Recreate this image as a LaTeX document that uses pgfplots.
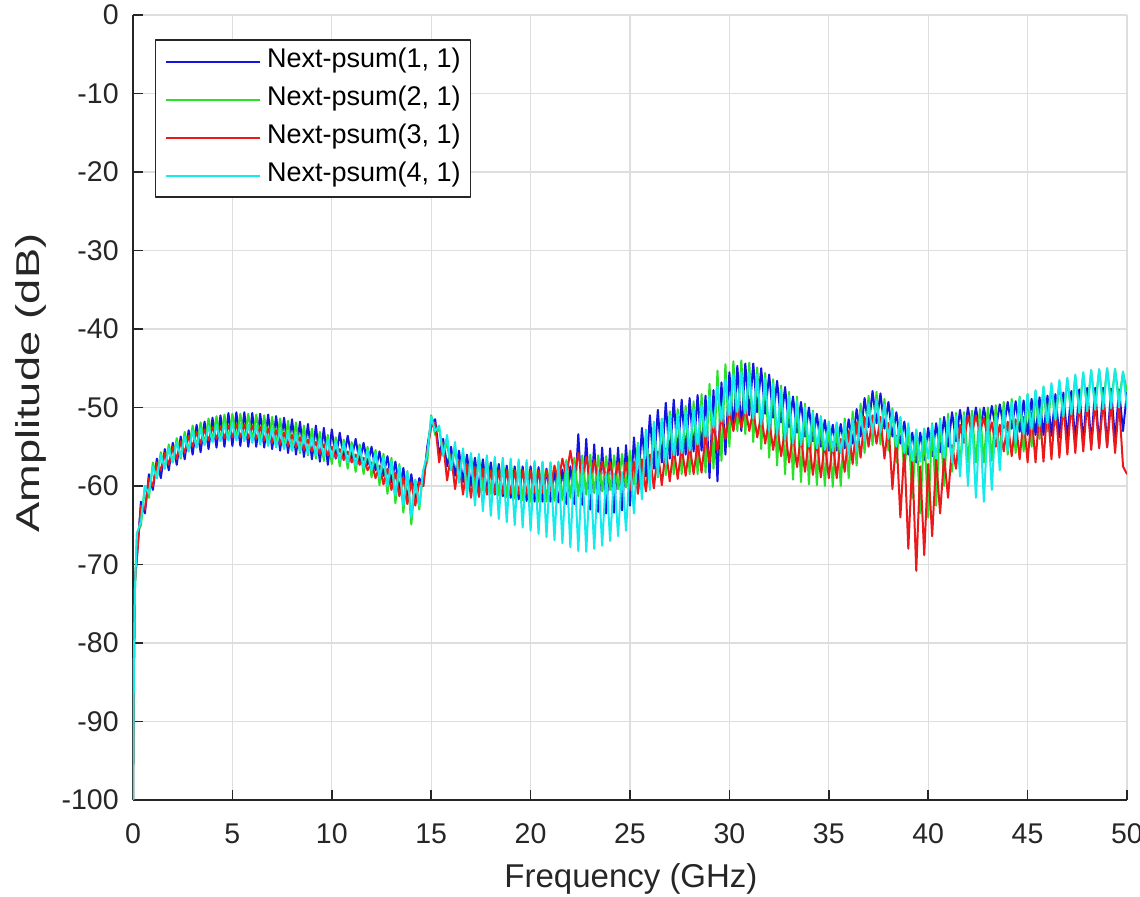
\documentclass[border=0pt]{standalone}
\usepackage{fontspec}
\setmainfont{Liberation Sans}
\usepackage{graphicx}
\usepackage{pgfplots}
\usepackage{pgfplotstable}
\pgfplotsset{compat=1.18}

\definecolor{axiscol}{RGB}{38,38,38}
\definecolor{gridcol}{RGB}{222,222,222}
\definecolor{mblue}{RGB}{20,20,225}
\definecolor{mgreen}{RGB}{40,225,40}
\definecolor{mred}{RGB}{235,25,25}
\definecolor{mcyan}{RGB}{20,235,235}

% x  blue  green  red  cyan  (ripple: alternating upper/lower envelope)
\pgfplotstableread{
x b g r c
0 -100 -100 -100 -100
0.05 -82 -82 -82 -82
0.1 -72 -73 -72 -73
0.2 -69 -66 -69 -66
0.4 -62 -65 -62.5 -64.5
0.6 -63.5 -60 -63 -60
0.8 -58.5 -61.5 -59 -61
1.0 -60.5 -57 -60 -57.5
1.2 -56.5 -59 -57 -59
1.4 -59 -55.7 -58 -56
1.6 -55.3 -57.8 -55.8 -57.8
1.8 -58 -54.7 -57.3 -55.2
2.0 -54.5 -57 -55 -57
2.2 -57.3 -53.9 -56.6 -54.4
2.4 -53.7 -56.5 -54.3 -56.3
2.6 -56.6 -53.1 -55.8 -53.7
2.8 -52.9 -55.6 -53.6 -55.6
3.0 -56 -52.3 -55 -53
3.2 -52.2 -55.1 -53.1 -55.1
3.4 -55.7 -51.9 -54.6 -52.7
3.6 -51.8 -54.7 -52.8 -54.8
3.8 -55.3 -51.4 -54.2 -52.4
4.0 -51.3 -54.3 -52.5 -54.4
4.2 -55.1 -51.1 -54 -52.2
4.4 -51 -54.2 -52.4 -54.3
4.6 -55 -50.9 -53.9 -52.1
4.8 -50.7 -54.1 -52.3 -54.2
5.0 -54.9 -50.8 -53.8 -52
5.2 -50.6 -54 -52.2 -54.2
5.4 -54.9 -50.8 -53.8 -52.1
5.6 -50.6 -54.1 -52.2 -54.3
5.8 -55 -50.8 -53.9 -52.2
6.0 -50.7 -54.2 -52.3 -54.5
6.2 -55 -50.9 -54 -52.3
6.4 -50.8 -54.4 -52.5 -54.7
6.6 -55.1 -51 -54.2 -52.4
6.8 -50.9 -54.7 -52.7 -54.9
7.0 -55.3 -51.2 -54.5 -52.6
7.2 -51.1 -54.9 -52.9 -55.1
7.4 -55.5 -51.4 -54.7 -52.8
7.6 -51.3 -55.2 -53.2 -55.3
7.8 -55.8 -51.7 -54.9 -53.1
8.0 -51.5 -55.5 -53.5 -55.5
8.2 -56 -51.9 -55.1 -53.3
8.4 -51.8 -55.8 -53.8 -55.6
8.6 -56.3 -52.3 -55.4 -53.6
8.8 -52.1 -56.1 -54.1 -55.9
9.0 -56.6 -52.7 -55.6 -53.8
9.2 -52.3 -56.5 -54.4 -56.1
9.4 -56.9 -53.1 -55.9 -54
9.6 -52.6 -56.8 -54.7 -56.2
9.8 -57.3 -53.5 -56.1 -54.1
10.0 -52.8 -57.2 -55 -56.4
10.2 -56.5 -53.8 -56.4 -54.3
10.4 -53.2 -57.5 -55.3 -56.7
10.6 -56.5 -54.1 -56.7 -54.5
10.8 -53.6 -57.8 -55.6 -57
11.0 -56.5 -54.4 -57 -54.8
11.2 -54 -58.2 -56 -57.4
11.4 -57 -54.7 -57.3 -55.1
11.6 -54.5 -58.5 -56.4 -57.7
11.8 -57.3 -55 -58 -55.4
12.0 -55 -58.9 -57 -58
12.2 -58 -55.4 -59 -55.8
12.4 -55.6 -59.9 -57.4 -59
12.6 -58.7 -55.9 -59.8 -56.3
12.8 -56.2 -61 -57.8 -60
13.0 -59.5 -56.4 -60.5 -56.8
13.2 -56.9 -62.2 -58.3 -61.2
13.4 -60.5 -57.2 -61.3 -57.5
13.6 -57.7 -63.4 -58.9 -62.5
13.8 -61.7 -58.1 -62.3 -58.2
14.0 -58.5 -64.9 -59.5 -64
14.2 -62 -59.2 -62.5 -59.2
14.4 -59 -63 -59.5 -62.5
14.6 -60 -58 -60 -58
14.8 -55 -57 -55.5 -56
15.0 -52 -51 -52.5 -51.2
15.2 -51.5 -53.5 -52 -53
15.4 -56 -52.6 -57 -52.3
15.6 -54 -56 -54.5 -56.2
15.8 -57.5 -54.5 -59.3 -53.5
16.0 -55 -58 -56 -58
16.2 -58.7 -55.3 -60.4 -54.4
16.4 -55.5 -59 -56.8 -59.6
16.6 -59.5 -55.7 -61.1 -55.2
16.8 -56 -59.8 -57.3 -61.4
17.0 -60 -56 -61.5 -55.8
17.2 -56.4 -60.4 -57.6 -62.5
17.4 -60.4 -56.2 -61.4 -55.9
17.6 -56.6 -60.6 -57.8 -63.2
17.8 -60.8 -56.4 -61.1 -56.1
18.0 -57 -61 -58 -63.8
18.2 -61.1 -56.6 -61 -56.3
18.4 -57.2 -61.2 -58 -64.2
18.6 -61.3 -56.7 -61 -56.4
18.8 -57.4 -61.4 -58 -64.6
19.0 -61.5 -56.8 -61 -56.5
19.2 -57.5 -61.6 -58 -65
19.4 -61.7 -56.9 -61 -56.6
19.6 -57.5 -61.8 -58 -65.3
19.8 -61.9 -57 -61 -56.7
20.0 -57.5 -62 -58 -65.7
20.2 -62 -57 -60.9 -56.8
20.4 -57.6 -62 -58 -66.1
20.6 -62 -57 -60.8 -56.9
20.8 -57.8 -62 -58 -66.5
21.0 -62 -57 -60.5 -57
21.2 -58 -61.9 -57.4 -66.9
21.4 -62.1 -56.9 -59.5 -57
21.6 -57.9 -61.8 -56.5 -67.3
21.8 -62.3 -56.7 -58.8 -57.1
22.0 -57.5 -61.5 -55.5 -67.8
22.2 -62.3 -56.4 -58.6 -57.2
22.4 -53.4 -61.3 -55.8 -68.3
22.6 -62.4 -56.1 -59 -57.3
22.8 -54 -61.1 -56.3 -68.4
23.0 -63 -56 -59 -57.8
23.2 -54.7 -60.9 -56.7 -68
23.4 -63.3 -56.1 -59 -58.1
23.6 -55.1 -60.7 -56.9 -67.6
23.8 -63.5 -56.2 -59 -58.4
24.0 -55.2 -60.5 -57 -67
24.2 -63.4 -56.1 -59.5 -58.4
24.4 -55.1 -60.4 -57 -66.4
24.6 -63.1 -55.9 -60.1 -58.2
24.8 -54.8 -60.2 -57 -65.7
25.0 -62.5 -55.5 -60.5 -57
25.2 -53.8 -59.8 -56.9 -63.5
25.4 -60.5 -54.5 -61 -54.6
25.6 -52.6 -59.4 -56.6 -61.7
25.8 -58.8 -53.5 -60.7 -52.8
26.0 -51 -59 -56 -60.5
26.2 -57.8 -52.5 -60.3 -51.8
26.4 -50.3 -58.9 -55.6 -58.7
26.6 -57 -51.5 -59.9 -51.4
26.8 -49.4 -58.6 -55.2 -57.2
27.0 -56.5 -50.5 -59.4 -51
27.2 -49 -58.5 -55 -56.1
27.4 -56.1 -50.2 -59.1 -50.8
27.6 -49 -58.5 -54.9 -55.8
27.8 -56 -49.8 -58.7 -50.5
28.0 -48.8 -58.5 -54.7 -55.5
28.2 -55.6 -49.2 -58.5 -50.2
28.4 -48.4 -58.5 -54.5 -54.7
28.6 -55.5 -48.3 -58.3 -49.7
28.8 -48.5 -58.3 -53.5 -53.7
29.0 -59 -47 -57 -48.5
29.2 -47.8 -57.8 -52 -52.6
29.4 -59.4 -45.3 -55.5 -47.3
29.6 -46.8 -56.8 -51 -51.8
29.8 -56 -44.5 -54 -46.4
30.0 -45.5 -55 -50.3 -51
30.2 -52.8 -44.1 -53 -45.8
30.4 -44.7 -53 -49.8 -50.6
30.6 -53 -44 -52.6 -45.5
30.8 -44.4 -53.4 -49.9 -50.8
31.0 -51 -44.3 -53 -45.5
31.2 -44.4 -54.4 -50.3 -51.4
31.4 -50.6 -44.9 -53.8 -45.8
31.6 -45 -55.3 -50.9 -52.2
31.8 -50.8 -45.6 -54.6 -46.3
32.0 -45.8 -56.4 -51.5 -53
32.2 -51.3 -46.4 -55.4 -46.9
32.4 -46.6 -57.4 -52.1 -53.5
32.6 -51.9 -47.2 -56.2 -47.7
32.8 -47.4 -58.5 -52.7 -54.1
33.0 -52.5 -48 -57 -48.5
33.2 -48.6 -59.2 -53.4 -54.6
33.4 -53.2 -48.6 -57.6 -49.2
33.6 -49.3 -59.5 -53.6 -54.8
33.8 -53.7 -49.5 -58.2 -50
34.0 -50 -59.8 -54 -55
34.2 -54.3 -50.4 -58.6 -50.6
34.4 -50.8 -59.9 -54.2 -55.2
34.6 -55 -51.1 -58.9 -51.2
34.8 -51.6 -60 -54.4 -55.4
35.0 -55.5 -51.8 -59 -51.8
35.2 -52.2 -60.1 -54.4 -55.6
35.4 -55.5 -52 -59 -51.9
35.6 -52.1 -60 -54 -55.8
35.8 -55.2 -51.4 -58.2 -52
36.0 -51.5 -59 -53 -56
36.2 -54.6 -50.5 -57.2 -51.6
36.4 -50.2 -57.4 -51.9 -55.6
36.6 -53.7 -49.5 -56.4 -50.7
36.8 -48.8 -55.8 -51.2 -54.3
37.0 -52.5 -48.5 -55 -49.5
37.2 -47.9 -54.8 -51 -53.3
37.4 -52 -48 -54.6 -49
37.6 -48.2 -54.7 -51.2 -53.2
37.8 -52.7 -48.9 -56.5 -49.6
38.0 -49.3 -55.5 -52 -54
38.2 -53.7 -50.1 -60.4 -50.4
38.4 -50.6 -57 -53.6 -55
38.6 -54.6 -51.3 -64 -51.2
38.8 -51.8 -58.2 -55.2 -55.8
39.0 -56 -52.5 -68 -52
39.2 -53.2 -61.5 -56.7 -56.8
39.4 -57 -52.9 -70.8 -52.8
39.6 -53.2 -63.5 -57.5 -56.9
39.8 -56.7 -52.7 -68.8 -52.7
40.0 -52.6 -64 -57.2 -56.5
40.2 -56.2 -52 -66.4 -52.2
40.4 -52 -62.5 -56.6 -56.5
40.6 -55.7 -51.4 -63.5 -51.7
40.8 -51.2 -60 -56.2 -56.4
41.0 -55 -50.8 -61.5 -51.5
41.2 -50.6 -58.2 -54.8 -57
41.4 -54.3 -50.7 -57.8 -51.1
41.6 -50.3 -57.6 -52.2 -58.8
41.8 -53.8 -50.6 -54.5 -51
42.0 -50 -57 -51 -60
42.2 -53.3 -50.4 -53.3 -51.2
42.4 -50 -57 -51 -61.5
42.6 -53.2 -50.2 -53.2 -51.5
42.8 -50 -57 -51.3 -62
43.0 -53 -50 -54 -51.5
43.2 -49.8 -56.8 -51.9 -60.5
43.4 -52.8 -49.7 -55 -51
43.6 -49.6 -56.5 -52.2 -58
43.8 -52.6 -49.3 -55.6 -50.2
44.0 -49.3 -56 -51.8 -55.5
44.2 -52.7 -48.9 -56.2 -49.3
44.4 -49.2 -55.8 -51.5 -54.5
44.6 -53.1 -48.6 -56.6 -48.8
44.8 -49.1 -55.6 -51.2 -53.5
45.0 -53.5 -48.3 -57 -48.3
45.2 -48.9 -55 -50.7 -52.8
45.4 -53.5 -47.9 -57 -47.8
45.6 -48.7 -54 -50.2 -52.4
45.8 -53.5 -47.5 -56.9 -47.3
46.0 -48.5 -53 -49.6 -52
46.2 -53.6 -47.2 -56.6 -46.9
46.4 -48.3 -52.2 -49.5 -51.6
46.6 -53.8 -46.8 -56.4 -46.5
46.8 -48.1 -51.4 -49.4 -51.2
47.0 -54 -46.5 -56 -46.2
47.2 -47.9 -50.8 -49.3 -50.9
47.4 -54.3 -46.1 -55.8 -45.8
47.6 -47.7 -50.4 -49.2 -50.7
47.8 -54.6 -45.7 -55.6 -45.5
48.0 -47.5 -50 -49.2 -50.5
48.2 -54.8 -45.4 -55.4 -45.2
48.4 -47.5 -49.8 -49.2 -50.3
48.6 -54.9 -45.2 -55.2 -45.1
48.8 -47.5 -49.6 -49.1 -50.2
49.0 -55 -45 -55.1 -45
49.2 -47.6 -49.4 -49.2 -50.1
49.4 -54.2 -45.1 -55.8 -45.1
49.6 -47.7 -49 -49.3 -50
49.8 -53 -45.5 -57.5 -45.4
50.0 -48 -48 -58.5 -50
}\datatable

\begin{document}
\begin{tikzpicture}[line join=round]
\begin{axis}[
    scale only axis,
    width=397.6pt, height=314pt,
    xmin=0, xmax=50, ymin=-100, ymax=0,
    xtick={0,5,...,50},
    ytick={-100,-90,...,0},
    axis x line*=bottom, axis y line*=left,
    axis line style={-, draw=axiscol, line width=0.6pt},
    tick align=inside,
    major tick length=4pt,
    tick style={draw=axiscol, line width=0.6pt},
    grid=major,
    major grid style={draw=gridcol, line width=0.5pt},
    /pgf/number format/assume math mode=true,
    tick label style={font=\fontsize{11.4}{13}\selectfont, text=axiscol},
    xticklabel style={yshift=-6pt},
    yticklabel style={xshift=-2.2pt},
    xlabel={Frequency (GHz)},
    xlabel style={at={(axis description cs:0.501,-0.080)}, anchor=north, inner sep=0pt,
        font=\fontsize{13.2}{15}\selectfont, text=axiscol},
    ylabel={\scalebox{1.37}[1]{Amplitude (dB)}},
    ylabel style={at={(axis description cs:-0.1187,0.531)}, anchor=north, inner sep=0pt,
        font=\fontsize{13.2}{15}\selectfont, text=axiscol},
    legend cell align=left,
    legend image code/.code={\draw[#1] (0pt,0pt) -- (37.6pt,0pt);},
    legend style={at={(0.0221,0.969)}, anchor=north west,
        draw=axiscol, line width=0.6pt, fill=white,
        font=\fontsize{10.8}{12}\selectfont,
        inner xsep=3.8pt, inner ysep=3.1pt,
        nodes={inner sep=0pt, text height=8pt, text depth=3pt},
        column sep=2.4pt, row sep=4.2pt},
]
\addplot[color=mblue, line width=0.8pt] table[x=x, y=b] {\datatable};
\addlegendentry{Next-psum(1, 1)}
\addplot[color=mgreen, line width=0.8pt] table[x=x, y=g] {\datatable};
\addlegendentry{Next-psum(2, 1)}
\addplot[color=mred, line width=0.8pt] table[x=x, y=r] {\datatable};
\addlegendentry{Next-psum(3, 1)}
\addplot[color=mcyan, line width=0.8pt] table[x=x, y=c] {\datatable};
\addlegendentry{Next-psum(4, 1)}
\coordinate (sw) at (rel axis cs:0,0);
\end{axis}
\pgfresetboundingbox
\path[use as bounding box] ([xshift=-53.2pt, yshift=-38.8pt]sw) rectangle ++(456pt, 358.8pt);
\end{tikzpicture}
\end{document}
